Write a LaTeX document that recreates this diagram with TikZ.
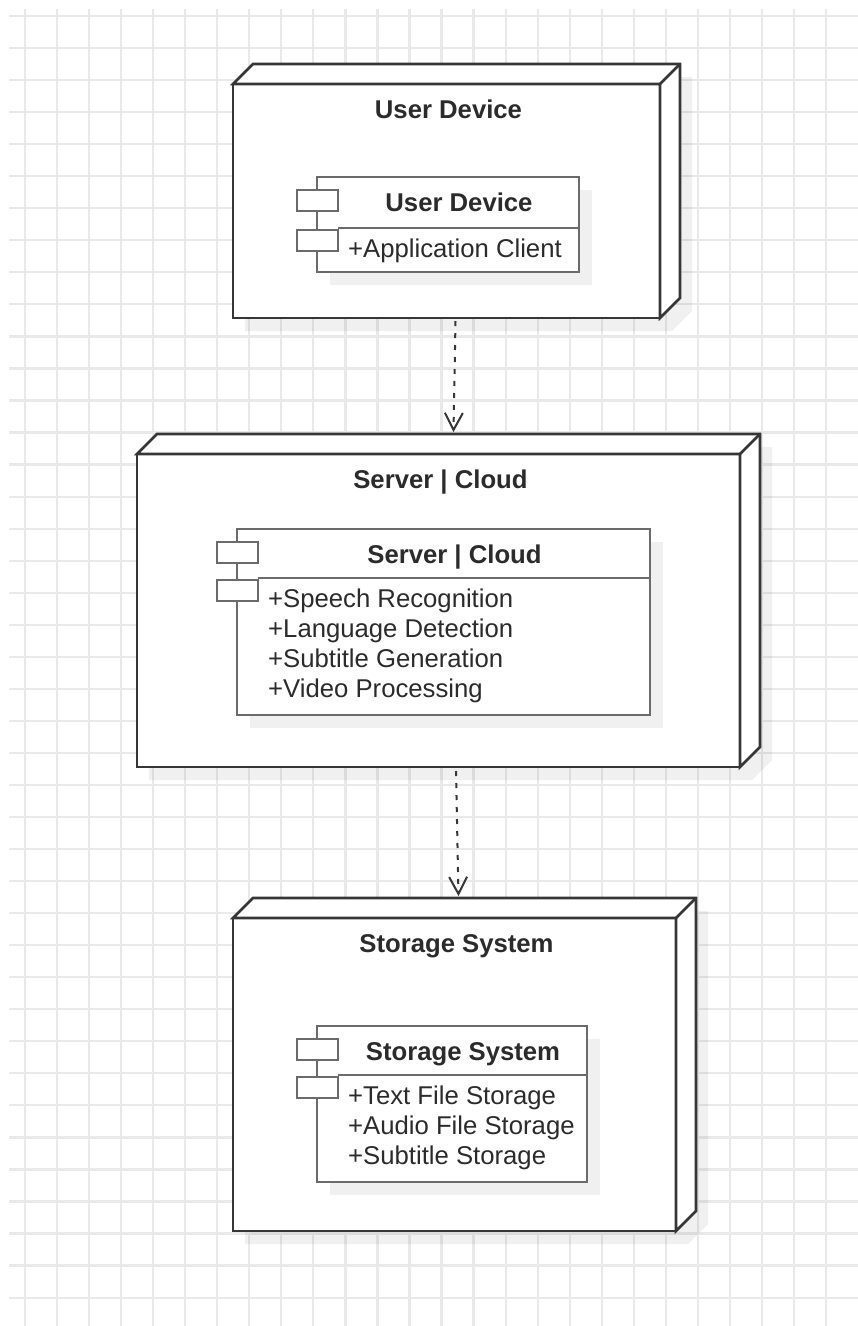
\documentclass[tikz,border=0pt]{standalone}
\usepackage{fontspec}
\setmainfont{Liberation Sans}
\usetikzlibrary{arrows.meta}

\pgfdeclarelayer{gridlayer}
\pgfdeclarelayer{outershade}
\pgfdeclarelayer{innershade}
\pgfdeclarelayer{inner}
\pgfsetlayers{gridlayer,outershade,main,innershade,inner}

\definecolor{gridc}{HTML}{E9E9E9}
\definecolor{nodeline}{HTML}{363636}
\definecolor{compline}{HTML}{6B6B6B}
\definecolor{txt}{HTML}{2B2B2B}

\newcommand\dfont{\fontsize{25.7}{30}\selectfont}

\tikzset{
  gridline/.style={draw=gridc, line width=2.2pt},
  nodeface/.style={draw=nodeline, fill=white, line width=2.6pt, line join=miter},
  shadefill/.style={fill=black, fill opacity=0.06},
  compbox/.style={draw=compline, fill=white, line width=2.6pt, inner sep=0pt, outer sep=0pt},
  portbox/.style={compbox, minimum width=41pt, minimum height=21pt, anchor=north west},
  ttl/.style={font=\dfont\bfseries, text=txt, inner sep=0pt, anchor=base},
  attr/.style={font=\dfont, text=txt, inner sep=0pt, anchor=base west},
  dep/.style={draw=nodeline, line width=2pt, dash pattern=on 5pt off 7pt,
    -{Straight Barb[length=17pt,width=18pt,line width=2pt]}},
}

% 3D deployment node: name, left, top, right, bottom, title
\newcommand\depnode[6]{%
  \node[nodeface, rectangle, inner sep=0pt, outer sep=0pt,
        minimum width={#4-#2}, minimum height={#5-#3}, anchor=north west] (#1) at (#2,#3) {};
  \draw[nodeface] (#1.north west) -- ([shift={(20,-20)}]#1.north west)
    -- ([shift={(20,-20)}]#1.north east) -- ([shift={(20,-20)}]#1.south east)
    -- (#1.south east) -- (#1.north east) -- cycle;
  \draw[nodeface] (#1.north east) -- ([shift={(20,-20)}]#1.north east);
  \begin{pgfonlayer}{outershade}
    \fill[shadefill] ([shift={(12,13)}]#1.south west) -- ([shift={(12,13)}]#1.north west)
      -- ([shift={(32,-7)}]#1.north west) -- ([shift={(32,-7)}]#1.north east)
      -- ([shift={(32,-7)}]#1.south east) -- ([shift={(12,13)}]#1.south east) -- cycle;
  \end{pgfonlayer}
  \node[ttl] (#1-title) at ([shift={(2,34)}]#1.north) {#6};
}

% component box: name, left, top, right, divider, bottom, title, attribute lines
\newcommand\compnode[8]{%
  \begin{pgfonlayer}{innershade}
    \fill[shadefill] ({#2+13},{#3+13}) rectangle ({#4+13},{#6+13});
  \end{pgfonlayer}
  \begin{pgfonlayer}{inner}
    \node[compbox, minimum width={#4-#2}, minimum height={#6-#3}, anchor=north west] (#1) at (#2,#3) {};
    \draw[draw=compline, line width=2.6pt] ({#2+21},#5) -- (#1.east |- {0,#5});
    \node[portbox] (#1-p1) at ({#2-20},{#3+13}) {};
    \node[portbox] (#1-p2) at ({#2-20},{#5+2}) {};
    \node[ttl] (#1-title) at ({(#2+22+#4)/2},{#3+34}) {#7};
    \foreach \t [count=\i] in {#8}
      \node[attr] (#1-a\i) at ({#2+31},{#5+29.5+30*(\i-1)}) {\t};
  \end{pgfonlayer}
}

\begin{document}
\begin{tikzpicture}[x=1pt, y=-1pt]
  \useasboundingbox (0,0) rectangle (858,1326);

  % white sheet and background grid
  \begin{pgfonlayer}{gridlayer}
    \fill[white] (0,0) rectangle (858,1326);
    \begin{scope}
      \clip (9,9) rectangle (858,1326);
      \foreach \k in {0,...,25}
        \draw[gridline] ({25+32.04*\k},9) -- ({25+32.04*\k},1326);
      \foreach \k in {0,...,40}
        \draw[gridline] (9,{16+32.04*\k}) -- (858,{16+32.04*\k});
    \end{scope}
  \end{pgfonlayer}

  % deployment nodes
  \depnode{ud}{233}{84}{660}{318}{User Device}
  \depnode{srv}{137}{454}{740}{767}{Server | Cloud}
  \depnode{sto}{233}{918}{676}{1231}{Storage System}

  % components
  \compnode{udc}{317}{177}{579}{228}{272}{User Device}{+Application Client}
  \compnode{srvc}{237}{529}{650}{578}{715}{Server | Cloud}%
    {+Speech Recognition,+Language Detection,+Subtitle Generation,+Video Processing}
  \compnode{stoc}{317}{1026}{587}{1075}{1182}{Storage System}%
    {+Text File Storage,+Audio File Storage,+Subtitle Storage}

  % dependencies
  \draw[dep] ([shift={(9,3)}]ud.south) -- ([shift={(15,-22)}]srv.north);
  \draw[dep] ([shift={(17.5,4)}]srv.south) -- ([shift={(4,-22)}]sto.north);
\end{tikzpicture}
\end{document}
